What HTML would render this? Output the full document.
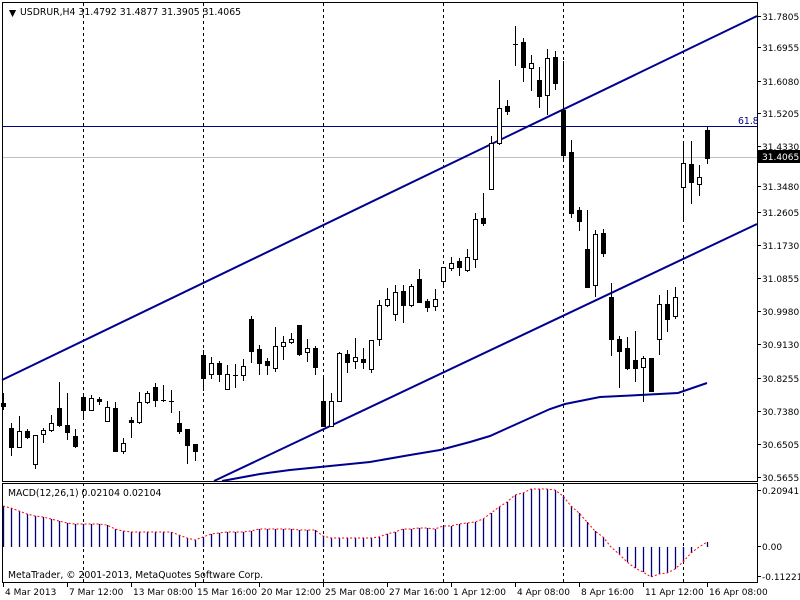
<!DOCTYPE html>
<html><head><meta charset="utf-8"><style>
html,body{margin:0;padding:0;background:#fff;width:800px;height:600px;overflow:hidden}
svg{display:block;font-family:"DejaVu Sans","Liberation Sans",sans-serif;font-size:9.3px}
#axis text{font-size:9px}
</style></head><body>
<svg id="s" width="800" height="600" xmlns="http://www.w3.org/2000/svg">
<rect width="800" height="600" fill="#fff"/>
<g id="grid" stroke="#000" stroke-dasharray="3,3" stroke-width="1"></g>
<line x1="2" y1="126.5" x2="757" y2="126.5" stroke="#000080" stroke-width="1"/>
<line x1="2" y1="157.5" x2="757" y2="157.5" stroke="#c0c0c0" stroke-width="1"/>
<g stroke="#000090" stroke-width="2" fill="none">
<line x1="2" y1="380" x2="757" y2="16"/>
<line x1="214" y1="481" x2="757" y2="224"/>
<polyline points="222,481 260,474 290,470 330,466 370,462 410,455 440,450 470,442 490,436 510,427 530,418 550,409 565,404 585,400 600,397 640,395 678,393 707,383"/>
</g>
<g id="candles"></g>
<g id="macd"></g>
<polyline id="sig" fill="none" stroke="#ff0000" stroke-width="1" stroke-dasharray="2,2"/>
<g fill="none" stroke="#000" stroke-width="1">
<rect x="2.5" y="2.5" width="755" height="479"/>
<rect x="2.5" y="483.5" width="755" height="99"/>
</g>
<g id="axis" fill="#000"></g>
<text x="9" y="16" fill="#000">▼</text>
<text x="20" y="15" fill="#000">USDRUR,H4  31.4792 31.4877 31.3905 31.4065</text>
<text x="738" y="124" fill="#000080">61.8</text>
<rect x="758" y="150" width="42" height="13" fill="#000"/>
<text x="762" y="160" fill="#fff" style="font-size:9px">31.4065</text>
<text x="8" y="496" fill="#000">MACD(12,26,1) 0.02104 0.02104</text>
<text x="8" y="578" fill="#000">MetaTrader, © 2001-2013, MetaQuotes Software Corp.</text>
</svg>
<script>
var NS="http://www.w3.org/2000/svg";
function el(p,t,a,txt){var e=document.createElementNS(NS,t);for(var k in a)e.setAttribute(k,a[k]);if(txt!==undefined)e.textContent=txt;document.getElementById(p).appendChild(e);return e;}
[83,203,323,443,563,683].forEach(function(x){el("grid","line",{x1:x+.5,y1:3,x2:x+.5,y2:582});});
var C=[[3,393,410,403,406,1],[11,423,456,428,447,1],[19,416,447,431,447,0],[27,429,439,431,437,1],[35,435,469,435,464,0],[43,428,443,430,434,0],[51,415,432,423,430,0],[59,382,427,408,425,1],[67,393,440,425,432,1],[75,429,448,436,446,1],[83,394,420,397,410,1],[91,395,411,398,410,0],[99,397,405,399,401,1],[107,401,421,407,421,0],[115,402,451,408,451,1],[123,438,454,443,451,0],[131,417,438,420,422,1],[139,392,424,402,422,0],[147,391,404,393,402,0],[155,383,407,387,400,1],[163,385,402,400,400,2],[171,390,413,401,401,2],[179,411,434,423,431,1],[187,429,464,429,445,1],[195,444,461,444,451,1],[203,350,391,355,378,1],[211,357,379,363,374,0],[219,361,382,363,374,1],[227,365,389,374,389,0],[235,364,388,375,375,2],[243,359,381,366,375,0],[251,316,363,319,351,1],[259,345,375,349,363,1],[267,358,375,361,365,1],[275,327,372,346,368,0],[283,336,360,342,346,0],[291,333,344,339,342,0],[299,325,356,325,354,1],[307,339,362,348,352,0],[315,346,375,348,367,1],[323,375,426,401,426,1],[331,393,426,401,426,0],[339,352,401,353,401,0],[347,350,373,354,362,1],[355,338,369,357,361,0],[363,348,369,359,362,1],[371,340,373,340,369,0],[379,300,346,305,339,0],[387,288,307,299,305,0],[395,285,321,292,314,0],[403,285,323,291,305,1],[411,284,307,286,305,0],[419,269,302,279,302,1],[427,299,312,301,307,1],[435,289,311,299,306,0],[443,267,286,267,281,0],[451,257,271,263,268,0],[459,258,276,261,267,1],[467,249,272,257,270,0],[475,213,268,219,259,0],[483,193,226,218,223,1],[491,136,189,143,189,0],[499,80,145,108,143,0],[507,100,115,106,111,1],[515,26,66,44,44,2],[523,38,82,42,67,1],[531,55,91,63,68,0],[539,67,108,80,96,1],[547,49,115,58,95,0],[555,51,90,57,83,1],[563,61,160,110,155,1],[571,140,218,152,213,1],[579,207,231,210,221,1],[587,210,287,249,287,1],[595,230,297,234,285,0],[603,229,257,233,253,1],[611,283,356,297,339,1],[619,336,388,339,351,1],[627,337,370,348,368,1],[635,331,382,360,368,1],[643,356,402,358,367,0],[651,358,391,358,391,1],[659,295,355,304,339,0],[667,290,332,304,319,1],[675,287,319,297,316,0],[683,141,220,163,187,0],[691,141,204,164,182,1],[699,165,196,177,184,0],[707,127,164,130,158,1]];
C.forEach(function(c){var x=c[0];
el("candles","line",{x1:x+.5,y1:c[1],x2:x+.5,y2:c[2],stroke:"#000","stroke-width":1});
if(c[5]==2){el("candles","line",{x1:x-2,y1:c[3]+.5,x2:x+3,y2:c[3]+.5,stroke:"#000","stroke-width":1});}
else el("candles","rect",{x:x-1.5,y:c[3]+.5,width:4,height:Math.max(1,c[4]-c[3]),fill:c[5]?"#000":"#fff",stroke:"#000","stroke-width":1});});
var M=[506,508,511,514,516,517,519,521,523,524,524,524,524,525,529,531,532,532,532,532,532,532,535,538,540,537,534,533,532,532,532,531,529,529,529,529,529,530,530,530,536,538,538,538,538,538,538,537,534,532,529,529,528,528,529,526,526,524,523,522,519,513,507,502,495,493,489,489,489,490,496,506,513,522,531,537,547,554,562,568,572,577,574,573,569,562,553,547,542];
var pts=[];
M.forEach(function(v,i){var x=3+i*8;
if(Math.abs(v-547)>0)el("macd","line",{x1:x+.5,y1:547,x2:x+.5,y2:v,stroke:"#000080","stroke-width":1.3});
pts.push(x+","+v);});
document.getElementById("sig").setAttribute("points",pts.join(" "));
var R=[[16,"31.7805"],[47,"31.6955"],[81,"31.6080"],[113,"31.5205"],[146,"31.4330"],[186,"31.3480"],[212,"31.2605"],[245,"31.1730"],[278,"31.0855"],[311,"30.9980"],[344,"30.9130"],[378,"30.8255"],[411,"30.7380"],[444,"30.6505"],[477,"30.5655"],[490,"0.20941"],[546,"0.00"],[576,"-0.11221"]];
R.forEach(function(r){el("axis","line",{x1:757,y1:r[0]+.5,x2:761,y2:r[0]+.5,stroke:"#000"});el("axis","text",{x:762,y:r[0]+4},r[1]);});
var B=[[3,"4 Mar 2013"],[67,"7 Mar 12:00"],[131,"13 Mar 08:00"],[195,"15 Mar 16:00"],[259,"20 Mar 12:00"],[323,"25 Mar 08:00"],[387,"27 Mar 16:00"],[451,"1 Apr 12:00"],[515,"4 Apr 08:00"],[579,"8 Apr 16:00"],[643,"11 Apr 12:00"],[707,"16 Apr 08:00"]];
B.forEach(function(b){el("axis","line",{x1:b[0]+.5,y1:582,x2:b[0]+.5,y2:587,stroke:"#000"});el("axis","text",{x:b[0]+2,y:595},b[1]);});
</script>
</body></html>
